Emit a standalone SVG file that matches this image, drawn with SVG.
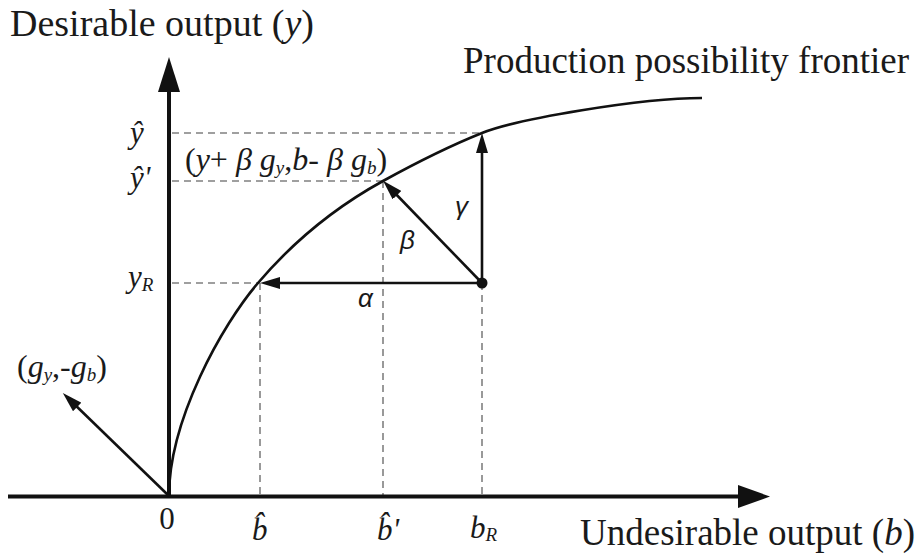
<svg xmlns="http://www.w3.org/2000/svg" width="918" height="559" viewBox="0 0 918 559">
<style>
text{font-family:'Liberation Serif','Times New Roman',serif;fill:#1a1a1a}
.big{font-size:37px}
.lab{font-size:31px}
.it{font-style:italic}
.sub{font-size:19px;font-style:italic}
text.gr{font-family:'Liberation Sans',Arial,sans-serif;font-style:italic;font-size:26px}
.dash{stroke:#808080;stroke-width:1.6;stroke-dasharray:7,5;fill:none}
.arr{stroke:#111;stroke-width:2.6;fill:none;marker-end:url(#ah)}
</style>
<defs>
<marker id="ah" viewBox="0 0 20 12" refX="10" refY="6" markerWidth="20" markerHeight="12" orient="auto" markerUnits="userSpaceOnUse">
<path d="M0,0 L20,6 L0,12 z" fill="#111"/>
</marker>
</defs>
<rect width="918" height="559" fill="#fff"/>

<g id="dashed-guides">
<path class="dash" d="M172,133 H482 M172,181 H383 M172,283 H260 M260,283 V496 M383,181 V496 M482,283 V496"/>
</g>

<g id="axes">
<line x1="8" y1="496.5" x2="745" y2="496.5" stroke="#111" stroke-width="4"/>
<polygon points="770,496.5 738,485 738,508" fill="#111"/>
<line x1="169" y1="498" x2="169" y2="85" stroke="#111" stroke-width="4"/>
<polygon points="169,57 158,92 180,92" fill="#111"/>
</g>

<g id="frontier">
<path d="M169,496 C169,420 222,325 258,283 C298,236 343,203 383,181 C423,159 447,147 482,133 C517,119 640,98 702,98" fill="none" stroke="#111" stroke-width="2.6"/>
</g>

<g id="connectors">
<line class="arr" x1="482" y1="283" x2="270" y2="283"/>
<line class="arr" x1="482" y1="283" x2="482" y2="143"/>
<line class="arr" x1="482" y1="283" x2="390" y2="188"/>
<line class="arr" x1="169" y1="496" x2="70" y2="400"/>
</g>

<g id="point-R">
<circle cx="482" cy="283" r="5.5" fill="#111"/>
</g>

<g id="axis-labels">
<text class="big" x="10" y="36" style="font-size:38px">Desirable output (<tspan class="it">y</tspan>)</text>
<text class="big" x="463" y="73">Production possibility frontier</text>
<text class="big" x="580" y="545">Undesirable output (<tspan class="it">b</tspan>)</text>
</g>

<g id="tick-labels">
<text class="lab it" x="130" y="143">ŷ</text>
<text class="lab it" x="130" y="188">ŷ'</text>
<text class="lab it" x="128" y="287">y<tspan class="sub" dy="4">R</tspan></text>
<text class="lab" x="167" y="529" text-anchor="middle">0</text>
<text class="lab it" x="252" y="540">b̂</text>
<text class="lab it" x="377" y="540">b̂'</text>
<text class="lab it" x="470" y="538">b<tspan class="sub" dy="3">R</tspan></text>
</g>

<g id="point-labels">
<text class="lab" x="185" y="170" style="font-size:32px">(<tspan class="it">y</tspan>+ <tspan class="it">β g</tspan><tspan class="sub" dy="4">y</tspan><tspan dy="-4">,</tspan><tspan class="it">b</tspan>- <tspan class="it">β g</tspan><tspan class="sub" dy="4">b</tspan><tspan dy="-4">)</tspan></text>
<text class="lab" x="17" y="377" style="font-size:32px">(<tspan class="it">g</tspan><tspan class="sub" dy="4">y</tspan><tspan dy="-4">,-</tspan><tspan class="it">g</tspan><tspan class="sub" dy="4">b</tspan><tspan dy="-4">)</tspan></text>
<text class="gr" x="358" y="307">α</text>
<text class="gr" x="400" y="249">β</text>
<text class="gr" x="455" y="215">γ</text>
</g>
</svg>
